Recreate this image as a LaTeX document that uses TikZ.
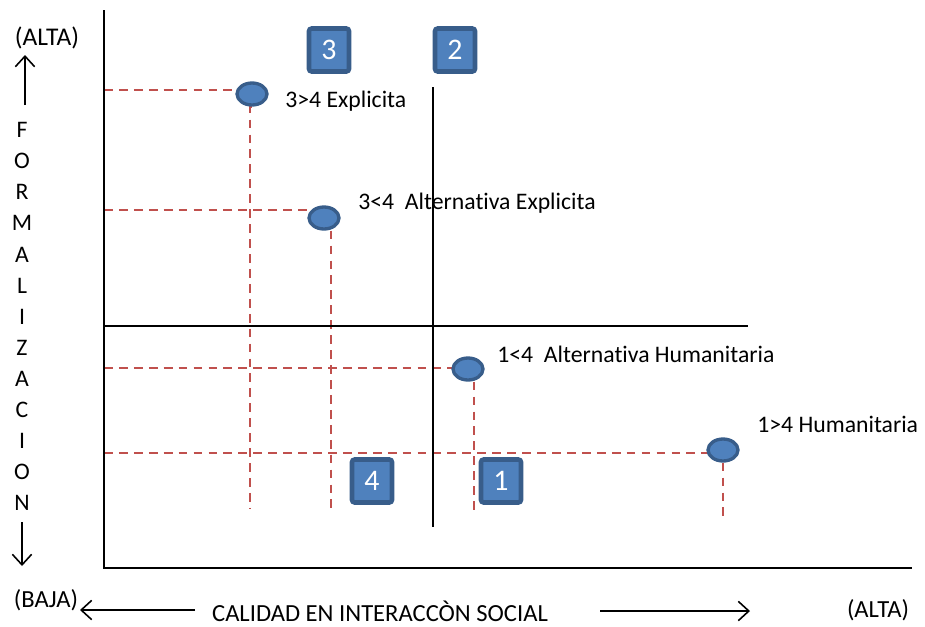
\documentclass[tikz,border=0pt]{standalone}
\usepackage{fontspec}
\setmainfont{Carlito}[Ligatures=NoCommon]
\usepackage{tikz}
\usetikzlibrary{arrows.meta, positioning, shapes.geometric, backgrounds}
\definecolor{boxblue}{HTML}{4F81BD}
\definecolor{edgeblue}{HTML}{385D8A}
\definecolor{guidered}{HTML}{C0504D}

\begin{document}
\begin{tikzpicture}[x=0.02cm, y=-0.02cm,
  pt/.style={draw=edgeblue, fill=boxblue, ellipse, line width=1.9pt, minimum width=0.6cm, minimum height=0.44cm, inner sep=0pt},
  quad/.style={draw=edgeblue, fill=boxblue, line width=2.6pt, rounded corners=1.5pt, minimum width=0.8cm, minimum height=0.86cm, text=white, font=\fontsize{17}{20}\selectfont},
  guide/.style={draw=guidered, dashed, dash pattern=on 5pt off 3.5pt, line width=1pt},
  lbl/.style={anchor=west, font=\fontsize{13.5}{16}\selectfont, inner sep=0pt},
  arrow/.style={-{Straight Barb[length=6pt, width=11pt]}, line width=0.9pt}
]
\useasboundingbox (0,0) rectangle (925,626);

% axes
\coordinate (top) at (104,10);
\coordinate (orig) at (104,568);
\coordinate (xend) at (912,568);
\draw[line width=1.1pt] (top) -- (orig) -- (xend);

% quadrant lines
\coordinate (vtop) at (433,87);
\coordinate (vbot) at (433,527);
\coordinate (hleft) at (104,326);
\coordinate (hright) at (748,326);
\draw[line width=0.8pt] (vtop) -- (vbot);
\draw[line width=0.8pt] (hleft) -- (hright);

% quadrant numbers
\node[quad] (q3) at (329,50) {3};
\node[quad] (q2) at (455,50) {2};
\node[quad] (q4) at (372,481) {4};
\node[quad] (q1) at (501,481) {1};

% points
\node[pt] (p34) at (252,94) {};
\node[pt] (p34alt) at (324,218) {};
\node[pt] (p14alt) at (468,369) {};
\node[pt] (p14) at (723,450) {};

\node[lbl] (l34) at (285,101) {3>4 Explicita};
\node[lbl] (l34alt) at (358,203) {3<4~~Alternativa Explicita};
\node[lbl] (l14alt) at (497,354) {1<4~~Alternativa Humanitaria};
\node[lbl] (l14) at (757,424) {1>4 Humanitaria};

% guide lines
\coordinate (a34) at (104,90);
\coordinate (b34) at (250,508);
\coordinate (a34alt) at (104,210);
\coordinate (b34alt) at (331,510);
\coordinate (a14alt) at (104,368);
\coordinate (b14alt) at (474,515);
\coordinate (a14) at (104,453);
\coordinate (b14) at (723,516);
\begin{scope}[on background layer]
\draw[guide] (a34) -- (a34 -| p34.center);
\draw[guide] (p34.center |- p34.south) -- (b34 |- p34.south) -- (b34);
\draw[guide] (a34alt) -- (a34alt -| p34alt.west);
\draw[guide] (b34alt |- p34alt.south) -- (b34alt);
\draw[guide] (a14alt) -- (a14alt -| p14alt.center);
\draw[guide] (b14alt |- p14alt.south) -- (b14alt);
\draw[guide] (a14) -- (a14 -| p14.center);
\draw[guide] (p14.south) -- (b14);
\end{scope}

% vertical axis title
\node[font=\fontsize{14.5}{17}\selectfont] (alta1) at (47,38) {(ALTA)};
\coordinate (upa) at (25,105);
\coordinate (upb) at (25,55);
\draw[arrow] (upa) -- (upb);
\foreach \ch [count=\i from 0] in {F,O,R,M,A,L,I,Z,A,C,I,O,N}
  \node[font=\fontsize{13.5}{16}\selectfont] (v\i) at (22,{130+31.1*\i}) {\ch};
\coordinate (dna) at (22,522);
\coordinate (dnb) at (22,566);
\draw[arrow] (dna) -- (dnb);

% horizontal axis title
\node[font=\fontsize{14}{16}\selectfont] (baja) at (46,600) {(BAJA)};
\node[font=\fontsize{14}{16}\selectfont] (title) at (380,611) {CALIDAD EN INTERACCÒN SOCIAL};
\node[font=\fontsize{14}{16}\selectfont] (alta2) at (878,610) {(ALTA)};
\coordinate (la) at (195,610);
\coordinate (lb) at (80,610);
\coordinate (ra) at (600,611);
\coordinate (rb) at (750,611);
\draw[arrow] (la) -- (lb);
\draw[arrow] (ra) -- (rb);
\end{tikzpicture}
\end{document}
